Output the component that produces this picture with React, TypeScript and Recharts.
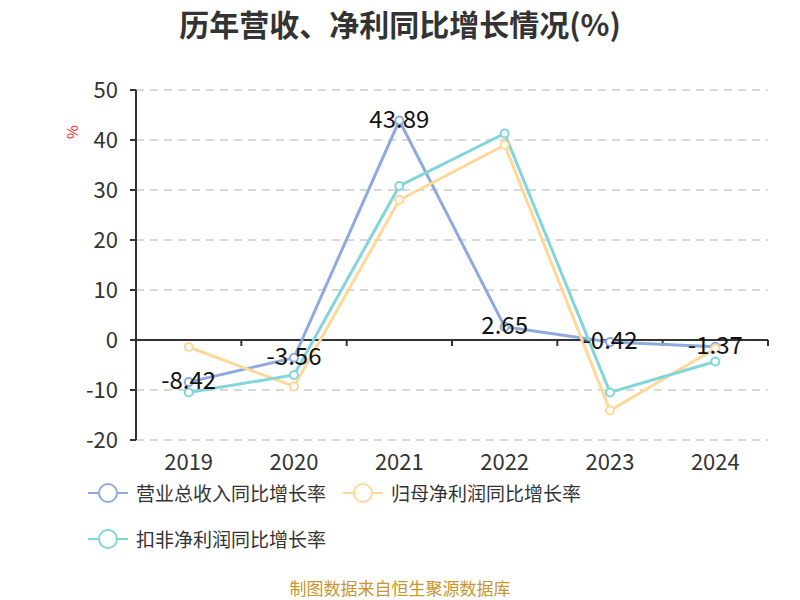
import React from 'react';
import { LineChart, Line, XAxis, YAxis, CartesianGrid, ReferenceLine, LabelList } from 'recharts';

const years = ['2019', '2020', '2021', '2022', '2023', '2024'];
const revenueGrowth = [-8.42, -3.56, 43.89, 2.65, -0.42, -1.37];
const netProfitGrowth = [-1.4, -9.3, 28.0, 39.0, -14.1, -1.7];
const deductedProfitGrowth = [-10.5, -7.0, 30.8, 41.3, -10.5, -4.3];
const yTicks = [-20, -10, 0, 10, 20, 30, 40, 50];

const seriesNames = ['营业总收入同比增长率', '归母净利润同比增长率', '扣非净利润同比增长率'];
const colors = ['#8EABDC', '#FFD899', '#82D5D8'];

const data = years.map((y, i) => ({
  year: y,
  rev: revenueGrowth[i],
  net: netProfitGrowth[i],
  ded: deductedProfitGrowth[i],
}));

const FONT = '"Noto Sans CJK SC", "Noto Sans", sans-serif';

const ZeroAxis = (props: any) => {
  const { x1, x2, y1 } = props;
  const n = years.length;
  const step = (x2 - x1) / n;
  const ticks = [];
  for (let i = 0; i <= n; i++) {
    const x = x1 + step * i;
    ticks.push(<line key={i} x1={x} x2={x} y1={y1} y2={y1 + 6} stroke="#333" strokeWidth={2} />);
  }
  return (
    <g>
      <line x1={x1} x2={x2} y1={y1} y2={y1} stroke="#333" strokeWidth={2} />
      {ticks}
    </g>
  );
};

const RevLabel = (props: any) => {
  const { x, y, value } = props;
  return (
    <text x={x} y={y + 7} textAnchor="middle" fontSize={24} fill="#111" fontFamily={FONT}>
      {value}
    </text>
  );
};

const LegendIcon = ({ color }: { color: string }) => (
  <svg width={40} height={24} style={{ marginRight: 8 }}>
    <line x1={0} x2={40} y1={12} y2={12} stroke={color} strokeWidth={2} />
    <circle cx={20} cy={12} r={9} fill="#fff" stroke={color} strokeWidth={2} />
  </svg>
);

export default function App() {
  return (
    <div style={{ position: 'absolute', left: 0, top: 0, width: 800, height: 600, background: '#fff', fontFamily: FONT }}>
      <div style={{ position: 'absolute', top: 4, left: 0, width: 800, textAlign: 'center', fontSize: 30, fontWeight: 'bold', color: '#333', lineHeight: '38px' }}>
        历年营收、净利同比增长情况(%)
      </div>
      <div style={{ position: 'absolute', left: 60, top: 122, width: 24, height: 20, transform: 'rotate(-90deg)', color: '#f22', fontSize: 15, textAlign: 'center', lineHeight: '20px' }}>
        %
      </div>
      <LineChart width={800} height={600} data={data} margin={{ top: 90, right: 32, bottom: 120, left: 76 }}>
        <CartesianGrid horizontal vertical={false} stroke="#ccc" strokeDasharray="8 6" strokeWidth={1.5} />
        <XAxis
          dataKey="year"
          scale="band"
          axisLine={false}
          tickLine={false}
          tickSize={0}
          tickMargin={14}
          height={40}
          interval={0}
          tick={{ fontSize: 22, fill: '#333', fontFamily: FONT }}
        />
        <YAxis
          width={60}
          domain={[-20, 50]}
          ticks={yTicks}
          interval={0}
          axisLine={{ stroke: '#333', strokeWidth: 2 }}
          tickLine={{ stroke: '#333', strokeWidth: 2 }}
          tickSize={6}
          tickMargin={12}
          tick={{ fontSize: 22, fill: '#333', fontFamily: FONT }}
        />
        <ReferenceLine y={0} shape={ZeroAxis} />
        <Line
          dataKey="rev"
          stroke={colors[0]}
          strokeWidth={3}
          dot={{ r: 4, fill: '#fff', stroke: colors[0], strokeWidth: 2 }}
          isAnimationActive={false}
        >
          <LabelList dataKey="rev" content={RevLabel} />
        </Line>
        <Line
          dataKey="net"
          stroke={colors[1]}
          strokeWidth={3}
          dot={{ r: 4, fill: '#fff', stroke: colors[1], strokeWidth: 2 }}
          isAnimationActive={false}
        />
        <Line
          dataKey="ded"
          stroke={colors[2]}
          strokeWidth={3}
          dot={{ r: 4, fill: '#fff', stroke: colors[2], strokeWidth: 2 }}
          isAnimationActive={false}
        />
      </LineChart>
      <div style={{ position: 'absolute', left: 88, top: 480, width: 680, display: 'flex', flexWrap: 'wrap', rowGap: 20, fontSize: 19, color: '#333' }}>
        {seriesNames.map((name, i) => (
          <div key={name} style={{ display: 'flex', alignItems: 'center', height: 26, marginRight: 17 }}>
            <LegendIcon color={colors[i]} />
            <span style={{ lineHeight: '26px' }}>{name}</span>
          </div>
        ))}
      </div>
      <div style={{ position: 'absolute', top: 576, left: 0, width: 800, height: 24, overflow: 'visible', textAlign: 'center', fontSize: 17, color: '#C8962D', lineHeight: '24px' }}>
        制图数据来自恒生聚源数据库
      </div>
    </div>
  );
}
